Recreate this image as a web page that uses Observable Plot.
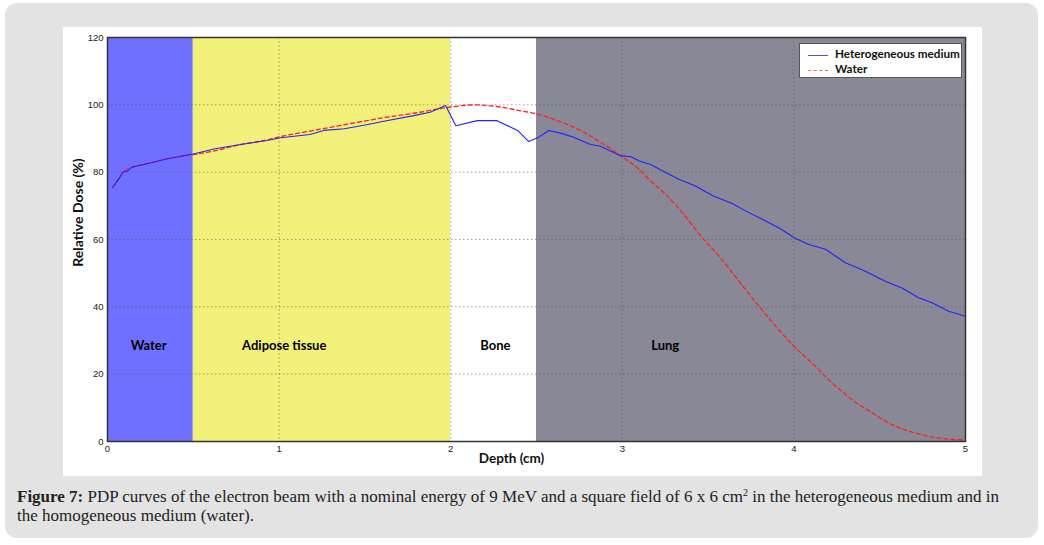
<!DOCTYPE html>
<html>
<head>
<meta charset="utf-8">
<script src="https://cdn.jsdelivr.net/npm/d3@7"></script>
<script src="https://cdn.jsdelivr.net/npm/@observablehq/plot@0.6"></script>
<style>
  html, body { margin: 0; padding: 0; background: #ffffff; }
  #page { position: relative; width: 1044px; height: 545px; overflow: hidden; background: #ffffff; }
  #box { position: absolute; left: 5px; top: 3px; width: 1033px; height: 535px; background: #e3e3e3; border-radius: 12px; }
  #panel { position: absolute; left: 63px; top: 27px; width: 919px; height: 449px; background: #ffffff; }
  #chart { position: absolute; left: 63px; top: 27px; }
  #legend { position: absolute; left: 799px; top: 43px; width: 163px; height: 35px; background: #fff; border: 1px solid #555; box-sizing: border-box; font-family: Lato, "Open Sans", sans-serif; font-weight: bold; font-size: 11.7px; color: #111; }
  #legend .row { position: absolute; left: 8px; height: 14px; line-height: 14px; }
  #legend .sw { display: inline-block; width: 20px; height: 0; vertical-align: middle; margin-right: 7px; }
  #caption { position: absolute; left: 17px; top: 487px; font-family: "Liberation Serif", "DejaVu Serif", serif; font-size: 17px; line-height: 19px; color: #222; white-space: nowrap; }
  #caption sup { font-size: 10px; vertical-align: 6px; line-height: 0; }
</style>
</head>
<body>
<div id="page">
  <div id="box"></div>
  <div id="panel"></div>
  <div id="chart"></div>
  <div id="legend">
    <div class="row" style="top:2px"><span class="sw" style="border-top:1.3px solid #4a4aff"></span>Heterogeneous medium</div>
    <div class="row" style="top:17px"><span class="sw" style="border-top:1.3px dashed #ff6060"></span>Water</div>
  </div>
  <div id="caption"><b>Figure 7:</b> PDP curves of the electron beam with a nominal energy of 9 MeV and a square field of 6 x 6 cm<sup>2</sup> in the heterogeneous medium and in<br>the homogeneous medium (water).</div>
</div>
<script>
// Tissue regions
const regionNames = ["Water", "Adipose tissue", "Bone", "Lung"];
const regionStart = [0, 0.5, 2, 2.5];
const regionEnd = [0.5, 2, 2.5, 5];
const regionLabelX = [0.24, 1.03, 2.26, 3.25];
const regionLabelY = 28.5;

// Heterogeneous medium curve
const hetDepth = [0.03,0.066,0.089,0.115,0.144,0.23,0.35,0.455,0.5,0.62,0.775,0.93,1.01,1.18,1.26,1.38,1.51,1.61,1.785,1.88,1.97,2.03,2.155,2.27,2.39,2.455,2.513,2.572,2.64,2.717,2.815,2.873,2.99,3.05,3.1,3.165,3.233,3.33,3.427,3.524,3.64,3.718,3.835,3.912,4.01,4.087,4.184,4.3,4.417,4.533,4.63,4.727,4.805,4.902,5.0];
const hetDose = [75.5,78,80,80.3,81.5,82.5,84,85,85.4,86.9,88.2,89.4,90.2,91.2,92.4,92.9,94.1,95.1,96.8,97.8,99.8,93.8,95.3,95.3,92.4,89.1,90.4,92.4,91.6,90.4,88.2,87.7,84.9,84.6,83.3,82.3,80.4,77.9,75.9,73.1,70.7,68.5,65.5,63.5,60.3,58.5,57.1,53.1,50.6,47.6,45.6,42.7,41.2,38.7,37.2];

// Water curve
const waterDepth = [0.03,0.066,0.089,0.144,0.23,0.35,0.5,0.62,0.775,0.93,1.01,1.18,1.358,1.51,1.65,1.785,1.98,2.135,2.27,2.4,2.503,2.62,2.757,2.873,2.99,3.097,3.155,3.252,3.35,3.466,3.563,3.68,3.796,3.912,4.0,4.106,4.223,4.34,4.456,4.572,4.708,4.844,4.99];
const waterDose = [75.5,78,80,81.5,82.6,84,85.2,86.3,88.2,89.6,90.6,92.2,93.9,95.3,96.5,97.5,99.2,100,99.5,98.3,97.3,95.3,92.4,88.9,84.9,80.9,77.9,73.4,68,60.5,55.1,47.6,40.2,33.2,28.3,23.3,17.4,12.4,8.5,5,2.5,1.0,0.5];

const xTicks = [0, 1, 2, 3, 4, 5];
const yTicks = [0, 20, 40, 60, 80, 100, 120];
const xGrid = [1, 2, 3, 4];
const yGrid = [20, 40, 60, 80, 100];

const regions = regionNames.map((name, i) => ({name, x1: regionStart[i], x2: regionEnd[i], lx: regionLabelX[i]}));
const het = hetDepth.map((d, i) => ({depth: d, dose: hetDose[i]}));
const water = waterDepth.map((d, i) => ({depth: d, dose: waterDose[i]}));

const plot = Plot.plot({
  width: 919,
  height: 449,
  marginLeft: 44,
  marginRight: 17,
  marginTop: 10,
  marginBottom: 35,
  style: {fontFamily: "'Liberation Sans', Arial, sans-serif", fontSize: "9.5px", color: "#222", background: "transparent"},
  x: {domain: [0, 5]},
  y: {domain: [0, 120]},
  color: {domain: regionNames, range: ["#7070ff", "#f1f17a", "#ffffff", "#888896"]},
  marks: [
    Plot.rect(regions, {x1: "x1", x2: "x2", y1: 0, y2: 120, fill: "name"}),
    Plot.ruleX(xGrid, {stroke: "#555", strokeOpacity: 0.55, strokeDasharray: "1.5,2.5", strokeWidth: 1}),
    Plot.ruleY(yGrid, {stroke: "#555", strokeOpacity: 0.55, strokeDasharray: "1.5,2.5", strokeWidth: 1}),
    Plot.text(regions, {x: "lx", y: () => regionLabelY, text: "name", fontFamily: "Lato, 'Open Sans', sans-serif", fontWeight: "bold", fontSize: 13, fill: "#000"}),
    Plot.line(water, {x: "depth", y: "dose", stroke: "#ff2020", strokeWidth: 1.3, strokeDasharray: "4,3", curve: "monotone-x"}),
    Plot.line(het, {x: "depth", y: "dose", stroke: "#2222ff", strokeWidth: 1.1}),
    Plot.frame({stroke: "#333", strokeWidth: 1.5}),
    Plot.axisX(xTicks, {tickSize: 0, tickPadding: 4, label: null, tickFormat: d => String(d)}),
    Plot.axisY(yTicks, {tickSize: 0, tickPadding: 4, label: null, tickFormat: d => String(d)}),
    Plot.text(["Relative Dose (%)"], {frameAnchor: "left", textAnchor: "middle", dx: -29, dy: -27, rotate: -90, fontFamily: "Lato, 'Open Sans', sans-serif", fontWeight: "bold", fontSize: 14, fill: "#111"}),
    Plot.text(["Depth (cm)"], {frameAnchor: "bottom", textAnchor: "middle", dx: -25, dy: 21, fontFamily: "Lato, 'Open Sans', sans-serif", fontWeight: "bold", fontSize: 13.5, fill: "#111"})
  ]
});
document.getElementById("chart").appendChild(plot);
</script>
</body>
</html>
